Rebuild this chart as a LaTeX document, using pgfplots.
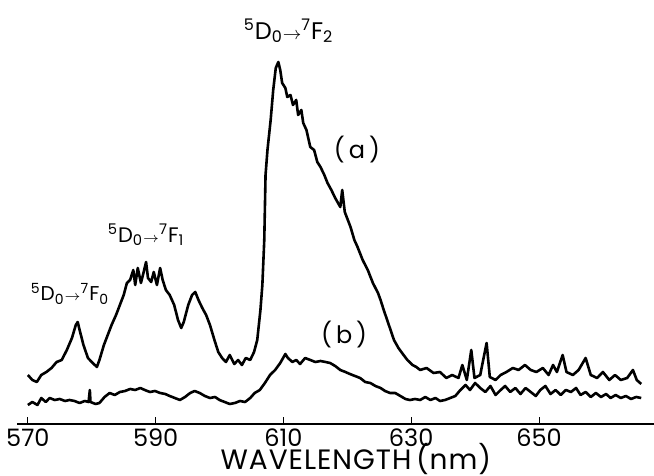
\documentclass[border=0pt]{standalone}
\usepackage{fontspec}
\setmainfont{Poppins}
\usepackage{pgfplots}
\pgfplotsset{compat=1.18}

% transition label: ^5D_0 -> ^7F_n, #2 = size of the arrow
\newcommand{\trans}[2]{\textsuperscript{5}D\textsubscript{0}{#2$\rightarrow$}\textsuperscript{7}F\textsubscript{#1}}

\begin{document}
\begin{tikzpicture}
\begin{axis}[
  scale only axis, width=318.5pt, height=212pt,
  xmin=568.3, xmax=668, ymin=0, ymax=424,
  axis x line=bottom, axis y line=none,
  x axis line style={-, line width=0.9pt},
  xtick={570,590,610,630,650},
  tick align=inside, major tick length=3.5pt,
  tick style={line width=0.5pt, black},
  /pgf/number format/assume math mode=true,
  /pgf/number format/set thousands separator={},
  xticklabel style={font=\fontsize{12}{12}\selectfont, anchor=base, inner sep=0pt, yshift=-11.3pt},
  xlabel={WAVELENGTH\,(nm)},
  xlabel style={font=\fontsize{14}{14}\selectfont\addfontfeatures{LetterSpace=3.5},
    at={(axis description cs:0.532,0)}, anchor=base, inner sep=0pt, yshift=-22.6pt},
  clip=false,
]
% spectrum (a)
\addplot[black, line width=1.3pt, line join=round] coordinates {
(570.0,49) (570.7,44) (571.4,42) (572.1,49) (572.9,52) (573.7,56) (574.5,62) (575.3,64)
(576.1,74) (576.9,86) (577.5,99) (577.8,102) (578.1,94) (578.7,79) (579.4,66) (580.0,62)
(580.8,57) (581.2,64) (581.9,79) (582.5,89) (583.1,99) (583.8,109) (584.4,119) (585.0,129)
(585.5,141) (586.0,144) (586.5,154) (586.8,139) (587.2,156) (587.7,141) (588.2,154) (588.5,162)
(588.8,146) (589.3,142) (589.7,152) (590.2,139) (590.7,156) (591.1,144) (591.6,134) (592.2,129)
(592.9,119) (593.5,104) (594.0,96) (594.4,102) (595.1,119) (595.7,129) (596.2,132) (596.7,124)
(597.3,116) (597.9,109) (598.5,99) (599.2,84) (599.8,72) (600.4,66) (601.0,62) (601.6,69)
(602.3,60) (602.9,64) (603.5,59) (604.1,66) (604.8,64) (605.4,72) (605.9,84) (606.4,114)
(606.7,139) (607.0,184) (607.2,249) (607.5,274) (608.0,304) (608.4,334) (608.8,356) (609.2,362)
(609.5,354) (609.8,341) (610.3,336) (610.6,327) (611.1,329) (611.5,319) (612.0,324) (612.3,309)
(612.8,314) (613.1,301) (613.6,294) (614.2,277) (614.8,274) (615.3,262) (615.8,257) (616.4,249)
(616.9,241) (617.5,234) (618.1,226) (618.9,217) (619.2,234) (619.6,212) (620.5,197) (621.1,184)
(621.6,177) (622.4,164) (623.2,154) (624.0,141) (624.8,131) (625.2,124) (625.7,114) (626.5,99)
(627.3,84) (628.0,76) (628.8,69) (629.4,64) (630.2,59) (630.8,57) (631.4,54) (632.4,56)
(633.5,51) (634.5,52) (635.5,46) (636.4,49) (637.4,46) (638.0,59) (638.7,44) (639.4,74)
(639.9,46) (640.8,49) (641.8,81) (642.3,47) (643.2,44) (644.0,49) (644.9,52) (645.9,56)
(646.8,54) (647.8,59) (648.7,54) (649.6,52) (650.6,56) (651.5,49) (652.2,59) (652.8,52)
(653.7,69) (654.3,52) (655.3,49) (656.2,54) (657.3,66) (658.1,49) (659.1,46) (660.0,52)
(661.0,44) (661.9,49) (662.8,44) (663.8,46) (664.7,54) (665.3,44) (666.0,40)
};
% spectrum (b)
\addplot[black, line width=1.3pt, line join=round] coordinates {
(570.0,19) (570.7,22) (571.5,19) (572.1,26) (572.8,22) (573.4,26) (574.2,24) (575.0,25)
(575.8,23) (576.5,24) (577.3,23) (578.1,21) (578.9,23) (579.5,22) (579.7,34) (579.8,22)
(580.6,20) (581.2,21) (582.0,27) (582.8,31) (583.6,29) (584.4,32) (585.2,33) (586.0,35)
(586.8,34) (587.6,36) (588.3,34) (589.1,32) (589.9,33) (590.7,31) (591.5,30) (592.2,28)
(593.0,26) (593.8,24) (594.6,27) (595.4,31) (596.1,33) (596.9,31) (597.7,28) (598.5,26)
(599.3,27) (600.0,24) (600.8,22) (601.6,20) (602.4,21) (603.2,23) (604.0,22) (604.8,26)
(605.5,31) (606.3,34) (607.1,41) (607.9,49) (608.7,54) (609.5,61) (610.3,70) (610.7,66)
(611.4,62) (612.0,64) (612.6,60) (613.4,66) (614.2,64) (615.0,62) (615.8,63) (616.6,62)
(617.3,61) (618.1,58) (618.9,54) (619.7,52) (620.4,50) (621.2,48) (622.0,46) (622.8,42)
(623.6,41) (624.4,38) (625.2,36) (625.9,33) (626.7,31) (627.5,31) (628.3,28) (629.1,25)
(629.8,24) (630.6,25) (631.4,24) (632.2,27) (633.0,24) (633.8,26) (634.5,23) (635.3,24)
(636.1,26) (636.9,28) (637.7,34) (638.5,39) (639.2,34) (640.0,41) (640.8,36) (641.6,32)
(642.4,38) (643.2,29) (644.0,34) (644.7,38) (645.5,32) (646.3,36) (647.1,30) (647.9,36)
(648.7,32) (649.5,28) (650.2,34) (651.0,38) (651.8,30) (652.6,34) (653.4,29) (654.2,34)
(655.0,32) (655.8,36) (656.5,29) (657.3,32) (658.1,27) (658.9,31) (659.7,27) (660.5,30)
(661.2,26) (662.0,29) (662.8,26) (663.6,28) (664.4,25) (665.2,27) (666.0,26)
};
\node[font=\fontsize{12}{12}\selectfont] at (axis cs:610.8,393) {\trans{2}{\small}};
\node[font=\fontsize{10.5}{10.5}\selectfont] at (axis cs:588.5,189) {\trans{1}{\scriptsize}};
\node[font=\fontsize{10}{10}\selectfont] at (axis cs:576.6,130) {\trans{0}{\scriptsize}};
\node[font=\fontsize{12}{12}\selectfont] at (axis cs:621.5,274) {(\,a\,)};
\node[font=\fontsize{12}{12}\selectfont] at (axis cs:619.5,89) {(\,b\,)};
\coordinate (bl) at (rel axis cs:-0.0267,0);
\coordinate (tr) at (rel axis cs:1,1);
\end{axis}
% page = scan: plot area plus 26pt of labels below
\pgfresetboundingbox
\path ([yshift=-26pt]bl) rectangle (tr);
\end{tikzpicture}
\end{document}
